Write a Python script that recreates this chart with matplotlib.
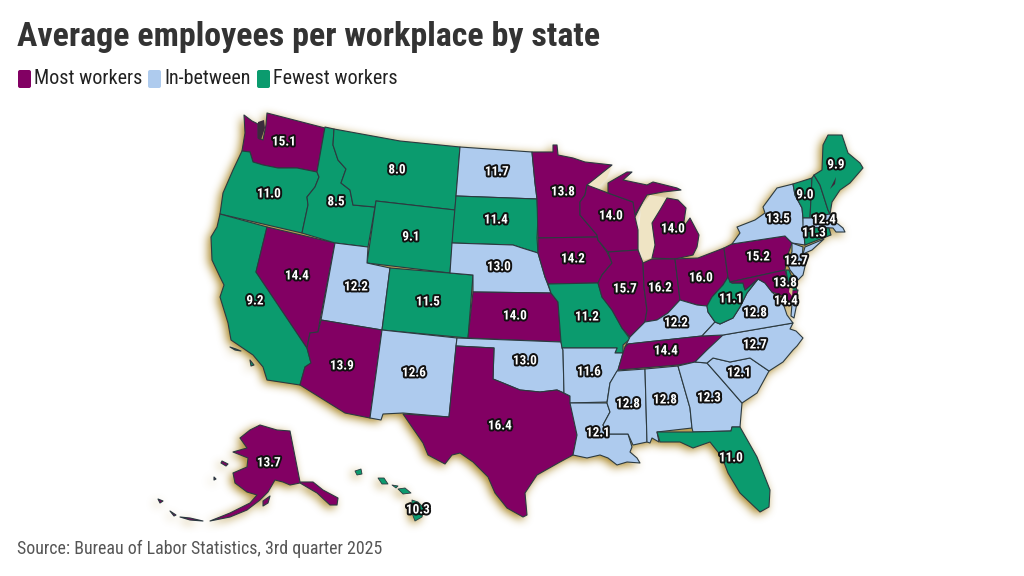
"""Average employees per workplace by state, drawn from hand-traced state outlines."""

import numpy as np
import matplotlib
matplotlib.use("Agg")
import matplotlib.pyplot as plt
import matplotlib.patheffects as pe
from matplotlib.patches import FancyBboxPatch, Polygon
from matplotlib.path import Path

# Colours for each group
GROUP_NAMES = ["Most workers", "In-between", "Fewest workers"]
GROUP_COLORS = ["#820063", "#aecbee", "#0b9b6e"]
OUTLINE = "#2c3a40"
GLOW = "#b08f35"

# Values and the spot their label sits at
VALUES = {
    "WA": 15.1, "OR": 11.0, "CA": 9.2, "NV": 14.4, "ID": 8.5, "MT": 8.0, "WY": 9.1,
    "UT": 12.2, "CO": 11.5, "AZ": 13.9, "NM": 12.6, "ND": 11.7, "SD": 11.4, "NE": 13.0,
    "KS": 14.0, "OK": 13.0, "TX": 16.4, "MN": 13.8, "IA": 14.2, "MO": 11.2, "AR": 11.6,
    "LA": 12.1, "WI": 14.0, "IL": 15.7, "MI": 14.0, "IN": 16.2, "OH": 16.0, "KY": 12.2,
    "TN": 14.4, "MS": 12.8, "AL": 12.8, "GA": 12.3, "FL": 11.0, "SC": 12.1, "NC": 12.7,
    "VA": 12.8, "WV": 11.1, "PA": 15.2, "NY": 13.5, "VT": 9.0, "ME": 9.9, "MA": 12.4,
    "CT": 11.3, "NJ": 12.7, "MD": 13.8, "DE": 14.4, "AK": 13.7, "HI": 10.3,
}
LABEL_POS = {
    "WA": (284, 142), "OR": (269, 194), "CA": (255, 301), "NV": (297, 276), "ID": (336, 202),
    "MT": (397, 170), "WY": (411, 237), "UT": (356, 287), "CO": (428, 302), "AZ": (342, 366),
    "NM": (414, 373), "ND": (497, 172), "SD": (496, 220), "NE": (499, 267), "KS": (515, 316),
    "OK": (525, 361), "TX": (500, 426), "MN": (563, 192), "IA": (573, 259), "MO": (587, 317),
    "AR": (589, 372), "LA": (598, 433), "WI": (611, 216), "IL": (625, 289), "MI": (673, 229),
    "IN": (660, 288), "OH": (701, 278), "KY": (676, 323), "TN": (666, 351), "MS": (628, 404),
    "AL": (665, 400), "GA": (709, 398), "FL": (731, 458), "SC": (739, 373), "NC": (755, 345),
    "VA": (755, 313), "WV": (731, 299), "PA": (758, 257), "NY": (778, 219), "VT": (805, 195),
    "ME": (836, 165), "MA": (824, 220), "CT": (814, 233), "NJ": (796, 261), "MD": (785, 283),
    "DE": (786, 301), "AK": (269, 463), "HI": (418, 510),
}

MOST = ["WA", "NV", "AZ", "KS", "TX", "MN", "IA", "WI", "IL", "MI", "IN", "OH", "TN", "PA", "MD",
        "AK"]
FEWEST = ["OR", "CA", "ID", "MT", "WY", "CO", "SD", "MO", "FL", "WV", "VT", "NH", "ME", "CT",
          "RI", "DE", "HI"]

# Traced outlines, in the picture's own pixel grid
SHAPES = {
    "WA": [[(244, 115), (252, 121), (258, 124), (258, 138), (263, 140), (266, 125), (267, 113),
            (325, 128), (317, 172), (297, 168), (278, 168), (263, 165), (253, 162), (250, 152),
            (242, 151), (245, 133)]],
    "OR": [[(242, 151), (250, 152), (253, 162), (263, 165), (278, 168), (297, 168), (317, 172),
            (319, 177), (315, 187), (307, 197), (308, 205), (302, 233), (220, 214), (223, 193),
            (233, 170)]],
    "CA": [[(220, 214), (267, 227), (256, 272), (307, 348), (311, 363), (305, 367), (300, 385),
            (267, 380), (263, 367), (253, 355), (231, 340), (228, 323), (220, 297), (224, 285),
            (220, 277), (212, 260), (211, 237), (217, 227)],
           [(230, 347), (236, 349), (241, 351), (235, 350)],
           [(250, 360), (254, 365), (251, 366)]],
    "NV": [[(267, 227), (335, 243), (320, 320), (318, 332), (310, 333), (307, 348), (256, 272)]],
    "ID": [[(325, 127), (334, 129), (333, 145), (338, 160), (346, 169), (341, 183), (350, 190),
            (353, 205), (375, 207), (368, 247), (335, 243), (302, 233), (308, 205), (307, 197),
            (315, 187), (319, 177), (317, 172)]],
    "MT": [[(334, 129), (400, 141), (460, 147), (455, 210), (376, 201), (375, 207), (353, 205),
            (350, 190), (341, 183), (346, 169), (338, 160), (333, 145)]],
    "WY": [[(376, 201), (455, 210), (450, 273), (367, 263)]],
    "UT": [[(335, 243), (368, 247), (367, 263), (390, 268), (382, 330), (321, 320)]],
    "CO": [[(390, 268), (473, 275), (468, 338), (382, 330)]],
    "AZ": [[(321, 320), (382, 330), (370, 418), (345, 413), (300, 385), (305, 367), (311, 363),
            (307, 348), (310, 333), (318, 332)]],
    "NM": [[(382, 330), (457, 338), (449, 417), (403, 413), (383, 414), (381, 420), (370, 418)]],
    "ND": [[(460, 147), (532, 152), (535, 183), (537, 199), (456, 196)]],
    "SD": [[(456, 196), (537, 199), (538, 217), (537, 238), (538, 253), (522, 248), (513, 245),
            (452, 243)]],
    "NE": [[(452, 243), (513, 245), (522, 248), (538, 253), (545, 277), (551, 293), (473, 292),
            (473, 275), (450, 273)]],
    "KS": [[(473, 292), (551, 293), (558, 302), (561, 342), (468, 338)]],
    "OK": [[(457, 338), (561, 342), (563, 350), (564, 393), (557, 390), (540, 392), (520, 390),
            (503, 383), (493, 379), (494, 348), (456, 346)]],
    "TX": [[(456, 346), (494, 348), (493, 379), (503, 383), (520, 390), (540, 392), (557, 390),
            (570, 396), (571, 403), (577, 435), (573, 455), (560, 462), (537, 475), (525, 493),
            (527, 515), (523, 517), (507, 508), (495, 493), (488, 477), (473, 462), (460, 453),
            (452, 455), (445, 464), (428, 455), (423, 443), (403, 414), (449, 417)]],
    "MN": [[(532, 152), (553, 152), (553, 145), (557, 145), (558, 155), (573, 158), (585, 162),
            (612, 165), (587, 185), (585, 195), (580, 202), (580, 215), (597, 235), (597, 237),
            (538, 238), (537, 199), (535, 183)]],
    "IA": [[(538, 238), (597, 237), (598, 240), (607, 252), (612, 263), (602, 275), (598, 283),
            (548, 284), (545, 277), (538, 253)]],
    "MO": [[(548, 284), (598, 283), (602, 297), (612, 310), (622, 328), (630, 339), (623, 345),
            (623, 353), (615, 353), (617, 348), (562, 348), (561, 342), (558, 302), (551, 293)]],
    "AR": [[(562, 348), (617, 348), (615, 353), (623, 353), (618, 370), (610, 383), (607, 402),
            (570, 403), (570, 396), (564, 393), (563, 350)]],
    "LA": [[(570, 403), (607, 403), (610, 412), (603, 425), (608, 434), (628, 434), (632, 447),
            (630, 452), (637, 458), (640, 463), (627, 462), (617, 465), (608, 458), (600, 455),
            (587, 458), (573, 455), (577, 435)]],
    "WI": [[(587, 185), (608, 193), (633, 202), (642, 203), (635, 217), (638, 230), (638, 250),
            (608, 252), (598, 240), (597, 235), (580, 215), (580, 202), (585, 195)]],
    "IL": [[(608, 252), (638, 250), (643, 263), (644, 287), (647, 310), (645, 322), (640, 327),
            (630, 337), (622, 328), (612, 310), (602, 297), (598, 283), (602, 275), (612, 263)]],
    "MI": [[(652, 258), (655, 245), (652, 223), (660, 210), (667, 198), (678, 200), (686, 208),
            (683, 228), (690, 218), (699, 235), (697, 247), (693, 255), (675, 259)],
           [(608, 193), (608, 183), (627, 172), (632, 172), (623, 180), (647, 185), (653, 182),
            (677, 188), (681, 190), (663, 192), (647, 195), (635, 215), (633, 202)]],
    "IN": [[(643, 263), (652, 259), (675, 259), (680, 300), (668, 313), (657, 320), (645, 322),
            (647, 310), (644, 287)]],
    "OH": [[(675, 259), (698, 258), (724, 248), (728, 277), (723, 285), (712, 297), (707, 306),
            (697, 305), (680, 300)]],
    "KY": [[(680, 300), (697, 305), (707, 306), (708, 312), (715, 322), (702, 336), (637, 343),
            (628, 344), (625, 347), (630, 337), (640, 327), (645, 322), (657, 320), (668, 313)]],
    "TN": [[(723, 335), (722, 337), (707, 350), (695, 362), (678, 365), (618, 370), (623, 353),
            (625, 347), (628, 344), (637, 343), (702, 336)]],
    "MS": [[(617, 371), (645, 369), (647, 442), (633, 445), (628, 434), (608, 434), (603, 425),
            (610, 412), (607, 403), (610, 383)]],
    "AL": [[(645, 369), (678, 366), (690, 408), (692, 428), (657, 432), (659, 442), (652, 438),
            (650, 443), (647, 442)]],
    "GA": [[(678, 366), (695, 362), (707, 363), (722, 380), (742, 403), (740, 427), (732, 427),
            (731, 431), (693, 432), (692, 428), (690, 408)]],
    "FL": [[(657, 432), (693, 432), (731, 431), (732, 427), (740, 427), (757, 457), (770, 490),
            (769, 507), (760, 512), (740, 493), (728, 473), (722, 457), (710, 442), (693, 448),
            (680, 442), (660, 442)]],
    "SC": [[(707, 363), (713, 358), (730, 362), (750, 358), (769, 371), (757, 393), (742, 403),
            (722, 380)]],
    "NC": [[(723, 335), (793, 323), (790, 329), (796, 331), (803, 338), (797, 346), (793, 350),
            (783, 362), (769, 371), (750, 358), (730, 362), (713, 358), (707, 363), (695, 362),
            (707, 350)]],
    "VA": [[(702, 336), (715, 322), (720, 324), (733, 318), (740, 307), (747, 293), (758, 279),
            (765, 283), (772, 292), (783, 303), (787, 315), (793, 323), (723, 335)],
           [(792, 304), (797, 303), (794, 318), (791, 316)]],
    "WV": [[(728, 277), (732, 283), (743, 283), (745, 290), (758, 279), (747, 293), (740, 307),
            (733, 318), (720, 324), (715, 322), (708, 312), (707, 306), (712, 297), (723, 285)]],
    "PA": [[(724, 248), (732, 244), (785, 236), (792, 243), (787, 257), (785, 270), (730, 282),
            (728, 277)]],
    "NY": [[(732, 244), (740, 233), (737, 227), (755, 220), (765, 213), (763, 207), (777, 188),
            (793, 184), (795, 195), (802, 208), (803, 218), (805, 245), (792, 243), (785, 236)],
           [(805, 247), (824, 239), (812, 250), (803, 254)]],
    "VT": [[(793, 184), (812, 178), (810, 218), (803, 218), (802, 208), (795, 195)]],
    "NH": [[(812, 178), (814, 175), (820, 185), (828, 210), (830, 214), (810, 218)]],
    "ME": [[(814, 175), (822, 170), (823, 145), (828, 135), (842, 135), (848, 153), (860, 163),
            (863, 168), (850, 183), (840, 190), (832, 202), (830, 214), (828, 210), (820, 185)]],
    "MA": [[(803, 218), (810, 218), (830, 214), (833, 222), (838, 224), (843, 228), (845, 232),
            (836, 232), (833, 228), (803, 227)]],
    "CT": [[(803, 227), (822, 228), (823, 238), (805, 245)]],
    "RI": [[(822, 228), (829, 228), (831, 235), (823, 238)]],
    "NJ": [[(792, 243), (803, 247), (802, 258), (806, 262), (803, 275), (798, 280), (790, 270),
            (787, 262), (792, 252)]],
    "DE": [[(786, 270), (789, 270), (797, 290), (790, 291), (787, 277)]],
    "MD": [[(730, 282), (785, 270), (787, 277), (790, 291), (798, 290), (795, 303), (790, 303),
            (783, 296), (772, 292), (765, 283), (758, 279), (745, 290), (743, 283), (732, 283)]],
    "AK": [[(260, 425), (277, 430), (290, 431), (300, 482), (313, 482), (323, 490), (338, 498),
            (337, 505), (330, 505), (317, 493), (300, 483), (290, 485), (283, 482), (275, 480),
            (268, 492), (260, 500), (247, 510), (230, 517), (210, 521), (230, 513), (250, 503),
            (257, 495), (247, 492), (235, 483), (233, 473), (247, 467), (248, 458), (233, 452),
            (247, 448), (240, 438), (250, 430)],
           [(222, 461), (228, 464), (226, 466), (221, 463)],
           [(263, 501), (270, 496), (268, 503), (263, 506)],
           [(180, 517), (190, 518), (203, 521), (190, 520)],
           [(170, 511), (176, 515), (174, 516)],
           [(158, 499), (163, 501), (160, 503)],
           [(214, 477), (216, 479), (214, 480)]],
    "HI": [[(355, 471), (361, 469), (362, 474), (357, 475)],
           [(378, 478), (384, 478), (388, 484), (382, 484)],
           [(392, 485), (398, 486), (396, 488)],
           [(398, 489), (405, 488), (411, 493), (403, 494)],
           [(412, 500), (418, 502), (424, 508), (422, 517), (415, 521), (412, 513)]],
}
ISLANDS = ["HI"]

# Dark inland water marks drawn on top of the states
WATER = [
    [(258, 122), (264, 120), (265, 128), (261, 140), (258, 139)],
    [(836, 177), (830, 189), (835, 184)],
]
GOLD_WATER = [
    [(790, 284), (793, 286), (792, 296), (789, 292)],
]
# Lake Michigan and the wedge of Superior between Minnesota and Wisconsin
LAKES = [
    [(652, 258), (655, 245), (652, 223), (660, 210), (667, 198), (650, 195), (641, 208),
     (639, 230), (640, 250), (644, 260)],
    [(612, 165), (587, 185), (597, 189), (607, 178)],
]


def group_color(state):
    if state in MOST:
        return GROUP_COLORS[0]
    if state in FEWEST:
        return GROUP_COLORS[2]
    return GROUP_COLORS[1]


def blurred_mask(polygons, width, height, dx, dy, passes=3, size=9):
    """Rasterise the outlines, shift them and soften with repeated box blurs."""
    xx, yy = np.meshgrid(np.arange(width), np.arange(height))
    grid = np.column_stack([xx.ravel() - dx, yy.ravel() - dy])
    mask = np.zeros(width * height)
    for poly in polygons:
        mask[Path(poly).contains_points(grid)] = 1
    mask = mask.reshape(height, width)
    kernel = np.ones(size) / size
    for _ in range(passes):
        mask = np.apply_along_axis(lambda r: np.convolve(r, kernel, "same"), 1, mask)
        mask = np.apply_along_axis(lambda c: np.convolve(c, kernel, "same"), 0, mask)
    return mask


def main():
    plt.rcParams["font.family"] = ["Roboto Condensed", "Barlow Condensed", "Roboto", "DejaVu Sans"]
    fig = plt.figure(figsize=(10.24, 5.76), dpi=100)
    ax = fig.add_axes([0, 0, 1, 1])

    # gold glow sitting behind the map, pushed a little down and left
    all_polys = [p for state in SHAPES for p in SHAPES[state]]
    glow = blurred_mask(all_polys, 1024, 576, -3, 3)
    rgba = np.zeros((576, 1024, 4))
    rgba[..., :3] = matplotlib.colors.to_rgb(GLOW)
    rgba[..., 3] = np.clip(glow * 1.15, 0, 0.85)
    ax.imshow(rgba, extent=(-0.5, 1023.5, 575.5, -0.5), zorder=1, interpolation="bilinear")
    ax.set_xlim(0, 1024)
    ax.set_ylim(576, 0)
    ax.set_aspect("auto")
    ax.axis("off")

    for poly in LAKES:
        ax.add_patch(Polygon(poly, closed=True, fc="#efe4c4", ec="none", zorder=1.5))

    for state, polys in SHAPES.items():
        lw = 0.6 if state in ISLANDS else 0.8
        for poly in polys:
            ax.add_patch(Polygon(poly, closed=True, fc=group_color(state), ec=OUTLINE,
                                 lw=lw, joinstyle="round", zorder=2))
    for poly in WATER:
        ax.add_patch(Polygon(poly, closed=True, fc="#3a2c3c", ec="none", zorder=2.5))
    for poly in GOLD_WATER:
        ax.add_patch(Polygon(poly, closed=True, fc="#d8c48a", ec="none", zorder=2.5))

    halo = [pe.withStroke(linewidth=2.8, foreground="#111111")]
    for state, value in VALUES.items():
        x, y = LABEL_POS[state]
        ax.text(x, y, f"{value:.1f}", color="white", fontsize=9.5, fontweight="bold",
                ha="center", va="center", zorder=5, path_effects=halo)

    ax.text(17, 37, "Average employees per workplace by state", color="#333333",
            fontsize=24.5, fontweight="bold", ha="left", va="center", zorder=6)

    # legend: small rounded swatch, then the name
    swatch_x = [18, 148, 257]
    text_x = [34, 164, 273]
    for name, color, sx, tx in zip(GROUP_NAMES, GROUP_COLORS, swatch_x, text_x):
        ax.add_patch(FancyBboxPatch((sx + 2, 72), 9, 14, boxstyle="round,pad=2",
                                    fc=color, ec="none", zorder=6))
        ax.text(tx, 79, name, color="#222222", fontsize=14.5, ha="left", va="center", zorder=6)

    ax.text(17, 549, "Source: Bureau of Labor Statistics, 3rd quarter 2025", color="#555555",
            fontsize=12.85, ha="left", va="center", zorder=6)

    fig.savefig("out.png", dpi=100, facecolor="white")


if __name__ == "__main__":
    main()
